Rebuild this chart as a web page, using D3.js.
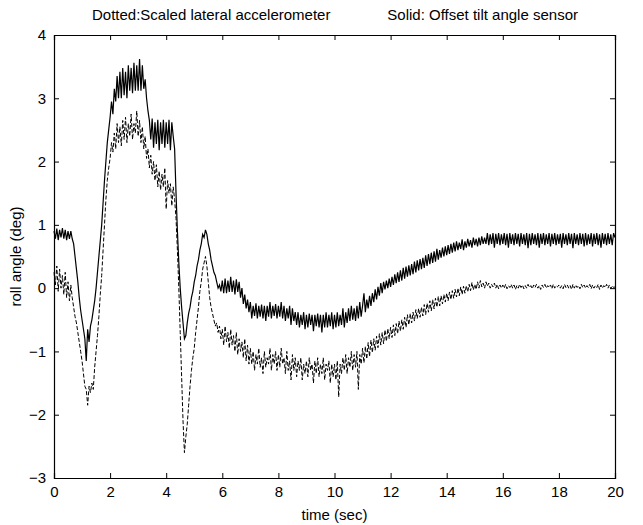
<!DOCTYPE html>
<html><head><meta charset="utf-8">
<script src="https://cdn.jsdelivr.net/npm/d3@7"></script>
<style>body{margin:0;background:#fff}svg{display:block}text{font-family:"Liberation Sans",Arial,sans-serif;fill:#000}</style>
</head><body><div id="c"></div>
<script>
const titleLeft = "Dotted:Scaled lateral accelerometer";
const titleRight = "Solid: Offset tilt angle sensor";
const xLabel = "time (sec)";
const yLabel = "roll angle (deg)";
const xTicks = [0,2,4,6,8,10,12,14,16,18,20];
const yTicks = [-3,-2,-1,0,1,2,3,4];
const tStep = 0.05;
// Solid: offset tilt angle sensor, every 0.05 s from t=0 (one row = 1 s)
const solid = [
0.9,0.78,0.94,0.76,0.92,0.8,0.95,0.78,0.92,0.76,0.9,0.78,0.9,0.78,0.7,0.5,0.3,0.1,-0.15,-0.35,
-0.5,-0.65,-0.8,-1.15,-0.65,-0.85,-0.6,-0.5,-0.35,-0.2,0.0,0.25,0.5,0.75,1.0,1.35,1.7,2.0,2.3,2.5,
2.7,2.95,2.75,3.15,2.95,3.35,3.0,3.42,3.0,3.48,3.05,3.42,3.0,3.52,3.12,3.48,3.08,3.56,3.12,3.52,
3.12,3.62,3.12,3.52,3.15,3.3,3.0,2.8,2.65,2.35,2.68,2.22,2.62,2.28,2.66,2.18,2.62,2.28,2.66,2.22,
2.62,2.28,2.66,2.18,2.62,2.4,2.2,1.5,0.9,0.4,0.0,-0.3,-0.55,-0.8,-0.75,-0.55,-0.4,-0.3,-0.15,-0.05,
0.1,0.2,0.35,0.45,0.6,0.7,0.85,0.8,0.92,0.85,0.7,0.6,0.45,0.35,0.25,0.2,0.1,0.0,0.05,-0.05,
0.12,-0.08,0.15,-0.08,0.12,-0.06,0.18,-0.06,0.12,-0.1,0.14,-0.06,0.1,-0.15,0.0,-0.25,-0.1,-0.32,-0.18,-0.38,
-0.22,-0.48,-0.28,-0.44,-0.24,-0.48,-0.28,-0.45,-0.26,-0.48,-0.28,-0.52,-0.28,-0.45,-0.22,-0.48,-0.28,-0.44,-0.25,-0.48,
-0.28,-0.45,-0.22,-0.48,-0.28,-0.52,-0.32,-0.48,-0.28,-0.58,-0.32,-0.52,-0.38,-0.58,-0.38,-0.62,-0.42,-0.58,-0.38,-0.65,
-0.42,-0.62,-0.4,-0.58,-0.42,-0.68,-0.42,-0.6,-0.4,-0.62,-0.42,-0.7,-0.42,-0.62,-0.38,-0.62,-0.42,-0.6,-0.38,-0.65,
-0.42,-0.62,-0.38,-0.6,-0.42,-0.58,-0.32,-0.62,-0.38,-0.55,-0.32,-0.52,-0.28,-0.5,-0.32,-0.52,-0.28,-0.48,-0.22,-0.45,
-0.28,-0.08,-0.38,-0.18,-0.32,-0.12,-0.28,-0.08,-0.22,-0.02,-0.18,0.02,-0.12,0.08,-0.08,0.1,-0.02,0.12,0.0,0.15,
0.02,0.18,0.05,0.22,0.08,0.25,0.1,0.28,0.12,0.32,0.15,0.34,0.18,0.36,0.2,0.38,0.22,0.42,0.25,0.44,
0.28,0.46,0.3,0.48,0.32,0.52,0.35,0.54,0.38,0.56,0.4,0.58,0.42,0.62,0.45,0.6,0.48,0.64,0.5,0.66,
0.52,0.68,0.54,0.7,0.56,0.72,0.58,0.74,0.6,0.72,0.62,0.77,0.6,0.74,0.64,0.78,0.66,0.76,0.64,0.8,
0.68,0.78,0.66,0.8,0.68,0.82,0.7,0.8,0.7,0.87,0.68,0.85,0.7,0.87,0.64,0.86,0.7,0.87,0.68,0.85,
0.7,0.87,0.68,0.86,0.64,0.87,0.7,0.85,0.68,0.87,0.7,0.86,0.66,0.87,0.7,0.85,0.68,0.87,0.63,0.86,
0.68,0.87,0.7,0.85,0.68,0.87,0.64,0.86,0.7,0.87,0.68,0.85,0.7,0.87,0.66,0.86,0.7,0.87,0.68,0.85,
0.7,0.86,0.64,0.87,0.7,0.85,0.68,0.87,0.7,0.86,0.63,0.87,0.7,0.85,0.68,0.87,0.7,0.86,0.66,0.87,
0.68,0.85,0.7,0.87,0.66,0.86,0.7,0.87,0.68,0.85,0.64,0.87,0.7,0.86,0.68,0.87,0.7,0.85,0.68,0.87,
0.8
];
// Dotted: scaled lateral accelerometer, every 0.05 s from t=0 (one row = 1 s)
const dotted = [
0.25,0.05,0.35,-0.05,0.3,0.0,0.2,-0.1,0.25,-0.15,0.1,-0.2,0.05,-0.15,-0.3,-0.45,-0.55,-0.7,-0.85,-1.0,
-1.15,-1.35,-1.55,-1.6,-1.85,-1.55,-1.65,-1.5,-1.6,-1.25,-1.0,-0.75,-0.45,-0.1,0.2,0.6,1.0,1.4,1.7,1.9,
2.05,2.3,2.15,2.45,2.2,2.6,2.3,2.55,2.25,2.65,2.35,2.7,2.3,2.6,2.4,2.75,2.35,2.6,2.45,2.8,
2.4,2.65,2.3,2.55,2.2,2.4,2.05,2.2,1.9,2.1,1.8,2.0,1.7,1.95,1.6,1.85,1.55,1.8,1.6,1.9,
1.25,1.7,1.5,1.65,1.3,1.6,1.4,1.1,0.6,0.0,-0.7,-1.4,-2.1,-2.6,-2.35,-2.15,-1.85,-1.55,-1.3,-1.1,
-0.95,-0.7,-0.5,-0.3,-0.05,0.1,0.3,0.4,0.5,0.35,0.1,-0.15,-0.3,-0.4,-0.5,-0.6,-0.55,-0.7,-0.6,-0.8,
-0.65,-0.9,-0.6,-0.85,-0.7,-0.95,-0.65,-0.9,-0.75,-1.0,-0.7,-1.05,-0.8,-1.0,-0.85,-1.1,-0.8,-1.15,-0.9,-1.2,
-0.95,-1.2,-1.0,-1.3,-1.05,-1.2,-0.95,-1.25,-1.1,-1.35,-1.0,-1.25,-1.1,-1.2,-0.95,-1.3,-1.05,-1.2,-1.0,-1.3,
-1.05,-1.25,-0.95,-1.2,-1.1,-1.35,-1.0,-1.3,-1.15,-1.45,-1.05,-1.3,-1.1,-1.4,-1.15,-1.3,-1.1,-1.45,-1.2,-1.35,
-1.15,-1.4,-1.1,-1.3,-1.2,-1.5,-1.15,-1.35,-1.1,-1.4,-1.2,-1.35,-1.1,-1.45,-1.2,-1.3,-1.15,-1.5,-1.2,-1.4,
-1.2,-1.45,-1.15,-1.72,-1.2,-1.35,-1.1,-1.3,-1.05,-1.35,-1.1,-1.25,-1.0,-1.3,-1.05,-1.25,-1.0,-1.6,-1.05,-1.2,
-0.95,-1.18,-0.92,-1.12,-0.86,-1.08,-0.82,-1.02,-0.8,-0.98,-0.76,-0.94,-0.72,-0.9,-0.7,-0.88,-0.66,-0.84,-0.64,-0.8,
-0.62,-0.78,-0.58,-0.75,-0.56,-0.72,-0.52,-0.68,-0.5,-0.65,-0.46,-0.62,-0.42,-0.58,-0.4,-0.55,-0.38,-0.52,-0.34,-0.48,
-0.32,-0.46,-0.3,-0.44,-0.26,-0.42,-0.24,-0.38,-0.2,-0.36,-0.18,-0.33,-0.16,-0.3,-0.13,-0.28,-0.12,-0.25,-0.1,-0.22,
-0.08,-0.2,-0.06,-0.18,-0.04,-0.16,-0.02,-0.14,0.0,-0.12,0.02,-0.1,0.03,-0.08,0.04,-0.06,0.06,-0.04,0.09,-0.03,
0.06,-0.02,0.1,0.0,0.12,0.02,0.08,0.0,0.1,0.03,0.08,0.0,0.06,0.02,0.08,0.0,0.06,-0.01,0.05,0.0,
0.05,0.0,0.06,-0.01,0.04,0.01,0.06,0.0,0.05,-0.02,0.04,0.0,0.06,0.01,0.05,-0.01,0.04,0.0,0.06,0.01,
0.04,-0.01,0.05,0.01,0.06,0.0,0.04,-0.02,0.05,0.01,0.06,0.0,0.04,0.01,0.05,-0.01,0.06,0.0,0.04,0.02,
0.05,0.0,0.04,-0.01,0.06,0.01,0.05,0.0,0.04,-0.02,0.06,0.0,0.05,0.01,0.04,-0.01,0.06,0.01,0.05,0.0,
0.04,0.01,0.06,-0.01,0.05,0.0,0.04,0.01,0.06,-0.02,0.05,0.0,0.04,0.01,0.06,0.0,0.05,-0.01,0.04,0.01,
0.02
];

const W = 643, H = 525;
const m = {left:54, right:615, top:35, bottom:478};
const svg = d3.select("#c").append("svg").attr("width",W).attr("height",H);
const x = d3.scaleLinear().domain([0,20]).range([m.left,m.right]);
const y = d3.scaleLinear().domain([-3,4]).range([m.bottom,m.top]);

const line = d3.line().x((d,i)=>x(i*tStep)).y(d=>y(d));
svg.append("path").datum(dotted).attr("d",line).attr("fill","none").attr("stroke","#000").attr("stroke-width",1).attr("stroke-dasharray","4,2");
svg.append("path").datum(solid).attr("d",line).attr("fill","none").attr("stroke","#000").attr("stroke-width",1.2);

const tl = 5;
const fmt = d3.format("d");
const fs = 15;
svg.append("g").attr("transform",`translate(0,${m.bottom})`)
  .call(d3.axisBottom(x).tickValues(xTicks).tickSize(-tl).tickPadding(8).tickFormat(fmt));
svg.append("g").attr("transform",`translate(0,${m.top})`)
  .call(d3.axisTop(x).tickValues(xTicks).tickSize(-tl).tickFormat(""));
svg.append("g").attr("transform",`translate(${m.left},0)`)
  .call(d3.axisLeft(y).tickValues(yTicks).tickSize(-tl).tickPadding(8).tickFormat(fmt));
svg.append("g").attr("transform",`translate(${m.right},0)`)
  .call(d3.axisRight(y).tickValues(yTicks).tickSize(-tl).tickFormat(""));
svg.selectAll(".tick text").attr("font-size",fs).style("font-family","'Liberation Sans',Arial,sans-serif");
svg.selectAll(".domain").attr("stroke","#000").attr("stroke-width",1.2);
svg.selectAll(".tick line").attr("stroke","#000");

svg.append("text").attr("x",92).attr("y",20).attr("text-anchor","start").attr("font-size",fs).text(titleLeft);
svg.append("text").attr("x",578).attr("y",20).attr("text-anchor","end").attr("font-size",fs).text(titleRight);
svg.append("text").attr("x",(m.left+m.right)/2).attr("y",520).attr("text-anchor","middle").attr("font-size",fs).text(xLabel);
svg.append("text").attr("transform",`translate(21,${(m.top+m.bottom)/2}) rotate(-90)`).attr("text-anchor","middle").attr("font-size",fs).text(yLabel);
</script></body></html>
